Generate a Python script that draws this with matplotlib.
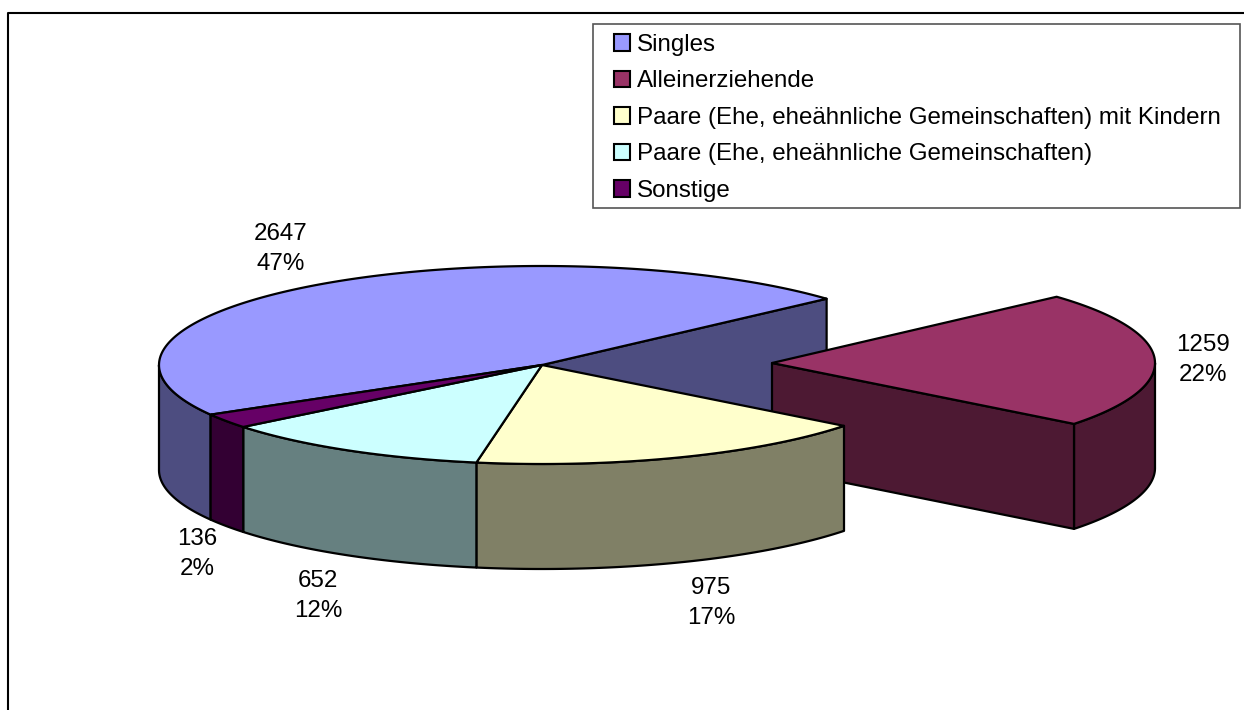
import numpy as np
import matplotlib
matplotlib.use('Agg')
import matplotlib.pyplot as plt
from matplotlib.patches import Polygon, Patch, Rectangle

plt.rcParams['font.family'] = ['Liberation Sans', 'DejaVu Sans']

categories = ['Singles', 'Alleinerziehende',
              'Paare (Ehe, eheähnliche Gemeinschaften) mit Kindern',
              'Paare (Ehe, eheähnliche Gemeinschaften)', 'Sonstige']
values = [2647, 1259, 975, 652, 136]
colors = ['#9999FF', '#993366', '#FFFFCC', '#CCFFFF', '#660066']
dark_colors = ['#4D4D80', '#4D1933', '#808066', '#668080', '#330033']

# pie geometry in pixels
cx, cy = 542, 365
rx, ry = 383, 99
depth = 105
start_angle = 42
explode = {1: (230, -2)}
label_pos = [(281, 249), (1203, 360), (711, 603), (318, 596), (197, 554)]
lw = 1.6

# slices run clockwise from start_angle, Singles comes last
total = sum(values)
order = [1, 2, 3, 4, 0]
angles = {}
a = start_angle
for i in order:
    sweep = 360.0 * values[i] / total
    angles[i] = (a - sweep, a)
    a -= sweep


def rim(i, a0, a1):
    dx, dy = explode.get(i, (0, 0))
    t = np.radians(np.linspace(a0, a1, 200))
    return np.column_stack([cx + dx + rx * np.cos(t), cy + dy - ry * np.sin(t)])


def centre(i):
    dx, dy = explode.get(i, (0, 0))
    return np.array([cx + dx, cy + dy])


def draw_wall(ax, i, pts):
    low = pts + [0, depth]
    ax.add_patch(Polygon(np.vstack([pts, low[::-1]]), facecolor=dark_colors[i],
                         edgecolor='black', lw=lw, joinstyle='round'))


def draw_cut(ax, i, angle):
    draw_wall(ax, i, np.vstack([centre(i), rim(i, angle, angle)[:1]]))


def draw_top(ax, i):
    a0, a1 = angles[i]
    ax.add_patch(Polygon(np.vstack([centre(i), rim(i, a0, a1)]), facecolor=colors[i],
                         edgecolor='black', lw=lw, joinstyle='round'))


fig = plt.figure(figsize=(12.44, 7.10), dpi=100)
ax = fig.add_axes([0, 0, 1, 1])
ax.set_xlim(0, 1244)
ax.set_ylim(710, 0)
ax.axis('off')

# chart frame, only top and left are inside the picture
ax.plot([7.5, 7.5, 1244], [710, 12.5, 12.5], color='black', lw=1.5)

# Singles: cut face at its start, then the front left wall
a0, a1 = angles[0]
draw_cut(ax, 0, a0)
draw_wall(ax, 0, rim(0, -180, a1))

# Alleinerziehende is pulled out, cut face and rim
a0, a1 = angles[1]
draw_wall(ax, 1, rim(1, a0, 0))
draw_cut(ax, 1, a0)
draw_top(ax, 1)

for i in [2, 3, 4]:
    a0, a1 = angles[i]
    draw_wall(ax, i, rim(i, a0, a1))
for i in [0, 2, 3, 4]:
    draw_top(ax, i)

for i, v in enumerate(values):
    ax.text(label_pos[i][0], label_pos[i][1], f'{v}\n{round(100 * v / total)}%',
            ha='center', va='center', fontsize=17.35, linespacing=1.42, color='black')

# legend box is wider than the legend's own padding allows
ax.add_patch(Rectangle((592.5, 23.5), 647.5, 184, facecolor='white',
                       edgecolor='#555555', lw=1.2))
handles = [Patch(facecolor=c, edgecolor='black', lw=1.5) for c in colors]
ax.legend(handles, categories, loc='upper left', bbox_to_anchor=(614, 34),
          bbox_transform=ax.transData, fontsize=17.35, frameon=False, borderaxespad=0,
          borderpad=0, handlelength=0.67, handleheight=0.67, handletextpad=0.28,
          labelspacing=0.6)

fig.savefig('out.png', dpi=100)
